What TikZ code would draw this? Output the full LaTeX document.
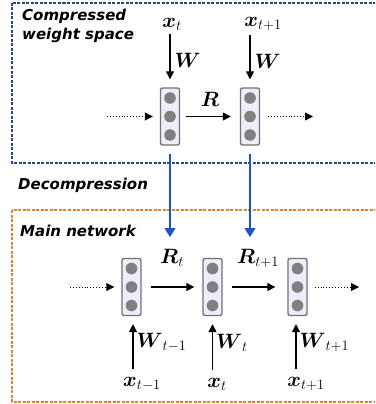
\documentclass[tikz,border=0pt]{standalone}
\usepackage{amsmath,amssymb}
\usepackage{fontspec}
\newfontfamily\tagfont{DejaVu Sans Bold Oblique}
\usetikzlibrary{positioning,arrows.meta,calc}

\definecolor{cellfill}{RGB}{238,238,250}
\definecolor{cellline}{RGB}{115,115,115}
\definecolor{dotgray}{RGB}{128,128,128}
\definecolor{topframe}{RGB}{40,70,140}
\definecolor{botframe}{RGB}{230,130,40}
\definecolor{decomp}{RGB}{25,85,200}

\begin{document}
\begin{tikzpicture}[
  x=1pt, y=-1pt,
  >={Triangle[length=8pt,width=8pt]},
  cell/.style={rectangle, draw=cellline, fill=cellfill, line width=1.4pt, rounded corners=2pt,
    minimum width=19pt, minimum height=57pt, inner sep=0pt,
    path picture={\foreach \dy in {-18.5,0,18.5}
      \fill[dotgray] ($(path picture bounding box.center)+(0,\dy)$) circle (5.8pt);}},
  mathlbl/.style={font=\fontsize{21}{25}\selectfont, inner sep=0pt},
  taglbl/.style={font=\tagfont\fontsize{15}{19}\selectfont, inner sep=0pt, align=left},
  flow/.style={->, line width=1.3pt},
  dotflow/.style={->, dotted, line width=0.9pt},
  decompmap/.style={->, draw=decomp, line width=1.2pt, >={Triangle[length=9pt,width=11pt]}},
  frame/.style={line width=1.3pt, dash pattern=on 3pt off 1.5pt}
]
  \useasboundingbox (0,0) rectangle (375,404);
  \clip (0,0) rectangle (375,404);

  % frames
  \draw[frame, draw=topframe] (12,3) rectangle (385,163);
  \draw[frame, draw=botframe] (12,210) rectangle (385,402);

  % text labels
  \node[taglbl, anchor=north west] (cwspace) at (22,9) {Compressed\\weight space};
  \node[taglbl, anchor=west] (decomplbl) at (18,185) {Decompression};
  \node[taglbl, anchor=west] (mainlbl) at (20,231) {Main network};

  % compressed weight space
  \node[cell] (c1) at (170,116.5) {};
  \node[cell] (c2) at (250,116.5) {};
  \coordinate (cin) at (107,116.5);
  \coordinate (cout) at (313,116.5);
  \draw[dotflow] (cin) -- ([xshift=-7pt]c1.west);
  \draw[flow, shorten <=6pt, shorten >=9pt] (c1.east) -- node[mathlbl, above=9pt] (rlbl) {$\boldsymbol{R}$} (c2.west);
  \draw[dotflow, shorten <=8pt] (c2.east) -- (cout);

  \node[mathlbl] (x1) at (172,24) {$\boldsymbol{x}_t$};
  \node[mathlbl] (x2) at (263,24) {$\boldsymbol{x}_{t+1}$};
  \draw[flow, shorten >=8pt] (x1.south -| c1.north) ++(0,4) -- node[mathlbl, right=4pt] (w1) {$\boldsymbol{W}$} (c1.north);
  \draw[flow, shorten >=8pt] (x2.south -| c2.north) ++(0,4) -- node[mathlbl, right=4pt] (w2) {$\boldsymbol{W}$} (c2.north);

  % main network
  \node[cell] (m1) at (131.5,287) {};
  \node[cell] (m2) at (212.5,287) {};
  \node[cell] (m3) at (297.5,287) {};
  \coordinate (min) at (70,287);
  \coordinate (mout) at (359,287);
  \draw[dotflow] (min) -- ([xshift=-7pt]m1.west);
  \draw[flow, shorten <=9pt, shorten >=8pt] (m1.east) -- (m2.west);
  \draw[flow, shorten <=9pt, shorten >=12pt] (m2.east) -- (m3.west);
  \draw[dotflow, shorten <=7pt] (m3.east) -- (mout);

  \node[mathlbl] (rt) at (172,258) {$\boldsymbol{R}_t$};
  \node[mathlbl] (rt1) at (258,258) {$\boldsymbol{R}_{t+1}$};

  % decompression
  \coordinate (d1) at (c1.south |- 0,237);
  \coordinate (d2) at (c2.south |- 0,237);
  \draw[decompmap, shorten <=8pt] (c1.south) -- (d1);
  \draw[decompmap, shorten <=8pt] (c2.south) -- (d2);

  % inputs of the main network
  \node[mathlbl] (xa) at (142,384) {$\boldsymbol{x}_{t-1}$};
  \node[mathlbl] (xb) at (217,384) {$\boldsymbol{x}_t$};
  \node[mathlbl] (xc) at (306,384) {$\boldsymbol{x}_{t+1}$};
  \draw[flow, shorten >=8pt] ($(xa.north -| m1.south)+(1.5,-8)$) -- node[mathlbl, right=3pt] (wa) {$\boldsymbol{W}_{t-1}$} ($(m1.south)+(1.5,0)$);
  \draw[flow, shorten >=8pt] ($(xb.north -| m2.south)+(0,-8)$) -- node[mathlbl, right=3pt] (wb) {$\boldsymbol{W}_t$} (m2.south);
  \draw[flow, shorten >=8pt] ($(xc.north -| m3.south)+(-1.5,-8)$) -- node[mathlbl, right=3pt] (wc) {$\boldsymbol{W}_{t+1}$} ($(m3.south)+(-1.5,0)$);
\end{tikzpicture}
\end{document}
